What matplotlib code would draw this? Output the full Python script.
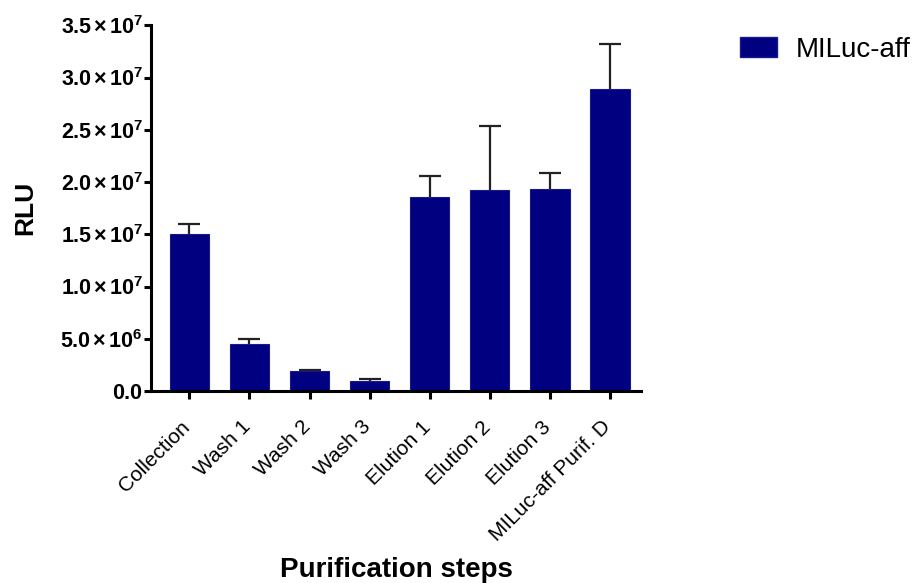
import matplotlib
matplotlib.use("Agg")
import matplotlib.pyplot as plt
from matplotlib.patches import Patch
from matplotlib.transforms import ScaledTranslation

categories = ["Collection", "Wash 1", "Wash 2", "Wash 3", "Elution 1", "Elution 2",
              "Elution 3", "MILuc-aff Purif. D"]
values = [15.0e6, 4.5e6, 1.9e6, 0.97e6, 18.6e6, 19.2e6, 19.35e6, 28.9e6]
errors = [1.0e6, 0.45e6, 0.11e6, 0.15e6, 2.0e6, 6.2e6, 1.5e6, 4.3e6]
ytick_vals = [0, 5e6, 1.0e7, 1.5e7, 2.0e7, 2.5e7, 3.0e7, 3.5e7]
ytick_labels = ["0.0", r"5.0{\times}10^{6}", r"1.0{\times}10^{7}", r"1.5{\times}10^{7}",
                r"2.0{\times}10^{7}", r"2.5{\times}10^{7}", r"3.0{\times}10^{7}", r"3.5{\times}10^{7}"]
series_name = "MILuc-aff"

plt.rcParams['font.family'] = ['Liberation Sans', 'DejaVu Sans']
plt.rcParams['mathtext.fontset'] = 'custom'
plt.rcParams['mathtext.rm'] = 'Liberation Sans'
plt.rcParams['mathtext.bf'] = 'Liberation Sans:bold'
plt.rcParams['mathtext.it'] = 'Liberation Sans:italic'

fig = plt.figure(figsize=(9.17, 5.83), dpi=100)
ax = fig.add_axes([151/917, 1-391/583, (641-151)/917, (391-25.3)/583])

color = "#000080"
x = list(range(len(categories)))
ax.bar(x, values, width=0.66, color=color, edgecolor="#1a1a8c", linewidth=0.8, zorder=2)
eb = ax.errorbar(x, values, yerr=[[0]*len(errors), errors], fmt='none', ecolor="#222222",
                 elinewidth=1.6, capsize=7.7, capthick=1.6, zorder=1)
# hide the lower (zero-length) caps
eb[1][0].set_visible(False)

ax.set_xlim(-0.64, 7.52)
ax.set_ylim(0, 3.5e7)

for s in ['top', 'right']:
    ax.spines[s].set_visible(False)
for s in ['left', 'bottom']:
    ax.spines[s].set_linewidth(2.2)
ax.tick_params(axis='y', length=5, width=2.2, pad=1)
ax.tick_params(axis='x', length=6, width=2.2, pad=5)

ax.set_yticks(ytick_vals)
ax.set_yticklabels(["$\\mathbf{" + s.replace("{\\times}", "\\,{\\times}\\,") + "}$" for s in ytick_labels],
                   fontsize=15.5)
ax.set_xticks(x)
ax.set_xticklabels(categories, rotation=45, ha='right', rotation_mode='anchor', fontsize=15)
offset = ScaledTranslation(-0.09, -0.11, fig.dpi_scale_trans)
for lab in ax.get_xticklabels():
    lab.set_transform(lab.get_transform() + offset)

ax.set_ylabel("RLU", fontsize=19, fontweight='bold')
ax.yaxis.set_label_coords(-0.233, 0.5)
ax.set_xlabel("Purification steps", fontsize=20, fontweight='bold', va='top')
ax.xaxis.set_label_coords(0.5, -0.453)

leg = fig.legend(handles=[Patch(facecolor=color, edgecolor="#1a1a8c", label=series_name)],
                 loc='center left', bbox_to_anchor=(740/917, 1-50/583), frameon=False,
                 fontsize=20, handlelength=1.33, handleheight=0.72, handletextpad=0.68,
                 borderpad=0, borderaxespad=0)

fig.savefig("out.png", dpi=100)
